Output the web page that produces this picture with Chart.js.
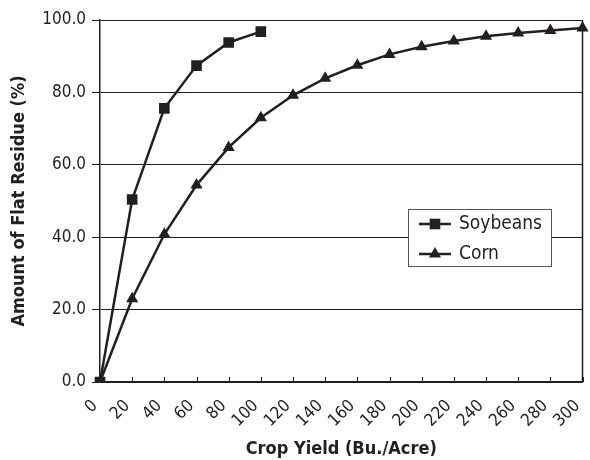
<!DOCTYPE html>
<html>
<head>
<meta charset="utf-8">
<script src="https://cdn.jsdelivr.net/npm/chart.js@4.4.1/dist/chart.umd.min.js"></script>
<style>
  html, body { margin: 0; padding: 0; background: #fff; }
  #wrap { width: 590px; height: 460px; }
</style>
</head>
<body>
<div id="wrap"><canvas id="residueChart"></canvas></div>
<script>
const yields = ["0", "20", "40", "60", "80", "100", "120", "140", "160", "180", "200", "220", "240", "260", "280", "300"];
const soybeans = [0, 50.4, 75.6, 87.4, 93.8, 96.8];
const corn = [0, 23.0, 40.8, 54.4, 64.8, 73.0, 79.2, 83.9, 87.5, 90.5, 92.6, 94.2, 95.5, 96.4, 97.1, 97.8];
const yTicks = [0, 20, 40, 60, 80, 100];

const ink = "#231f20";
const narrow = "'DejaVu Sans Condensed', 'Liberation Sans Narrow', sans-serif";

// small ticks pointing up from the x axis, plus the right frame line
const frame = {
  id: "frame",
  afterDatasetsDraw(chart) {
    const { ctx, chartArea } = chart;
    const x = chart.scales.x;
    ctx.save();
    ctx.strokeStyle = ink;
    ctx.lineWidth = 1.5;
    ctx.beginPath();
    ctx.moveTo(chartArea.right, chartArea.top);
    ctx.lineTo(chartArea.right, chartArea.bottom);
    ctx.stroke();
    ctx.lineWidth = 1;
    x.ticks.forEach((t, i) => {
      const px = Math.round(x.getPixelForTick(i)) + 0.5;
      ctx.beginPath();
      ctx.moveTo(px, chartArea.bottom);
      ctx.lineTo(px, chartArea.bottom - 5);
      ctx.stroke();
    });
    ctx.restore();
  },
};

// boxed legend sitting inside the plot
const boxLegend = {
  id: "boxLegend",
  afterDraw(chart) {
    const { ctx } = chart;
    const left = 408, top = 209, w = 143, h = 57;
    ctx.save();
    ctx.fillStyle = "#fff";
    ctx.fillRect(left, top, w, h);
    ctx.strokeStyle = "#555";
    ctx.lineWidth = 1;
    ctx.strokeRect(left + 0.5, top + 0.5, w, h);
    chart.data.datasets.forEach((ds, i) => {
      const cy = top + 15 + i * 30;
      ctx.strokeStyle = ink;
      ctx.lineWidth = 2.5;
      ctx.beginPath();
      ctx.moveTo(419, cy);
      ctx.lineTo(451, cy);
      ctx.stroke();
      ctx.fillStyle = ink;
      Chart.helpers.drawPoint(ctx, { pointStyle: ds.pointStyle, radius: ds.pointRadius, borderWidth: 0 }, 435, cy);
      ctx.fillStyle = ink;
      ctx.font = "19px " + narrow;
      ctx.textBaseline = "middle";
      ctx.textAlign = "left";
      ctx.fillText(ds.label, 459, cy);
    });
    ctx.restore();
  },
};

new Chart(document.getElementById("residueChart"), {
  type: "line",
  data: {
    labels: yields,
    datasets: [
      { label: "Soybeans", data: soybeans, pointStyle: "rect", pointRadius: 7.5 },
      { label: "Corn", data: corn, pointStyle: "triangle", pointRadius: 7 },
    ].map((d) => ({
      ...d,
      borderColor: ink,
      backgroundColor: ink,
      pointBackgroundColor: ink,
      pointBorderColor: ink,
      pointBorderWidth: 0,
      borderWidth: 2.5,
      tension: 0,
    })),
  },
  options: {
    responsive: true,
    maintainAspectRatio: false,
    animation: false,
    layout: { padding: { top: 20, right: 5, left: 0, bottom: 0 } },
    plugins: { legend: { display: false }, tooltip: { enabled: false } },
    scales: {
      x: {
        offset: false,
        grid: { display: false },
        border: { display: true, color: ink, width: 1.5 },
        ticks: { color: ink, font: { size: 17, family: narrow }, minRotation: 45, maxRotation: 45, padding: 6, labelOffset: -5, autoSkip: false },
        title: { display: true, text: "Crop Yield (Bu./Acre)", color: ink, font: { size: 18, weight: "bold", family: narrow }, padding: { top: 0, bottom: 0 } },
        afterFit(s) { s.height = 78; s.paddingLeft = 0; s.paddingRight = 0; },
      },
      y: {
        min: 0,
        max: 100,
        afterBuildTicks(s) { s.ticks = yTicks.map((v) => ({ value: v })); },
        grid: { color: ink, lineWidth: 1, tickLength: 8 },
        border: { display: true, color: ink, width: 1.5 },
        ticks: { color: ink, font: { size: 17, family: narrow }, padding: 6, callback: (v) => v.toFixed(1) },
        title: { display: true, text: "Amount of Flat Residue (%)", color: ink, font: { size: 18, weight: "bold", family: narrow }, padding: { top: 9, bottom: 0 } },
        afterFit(s) { s.width = 100; },
      },
    },
  },
  plugins: [frame, boxLegend],
});
</script>
</body>
</html>
